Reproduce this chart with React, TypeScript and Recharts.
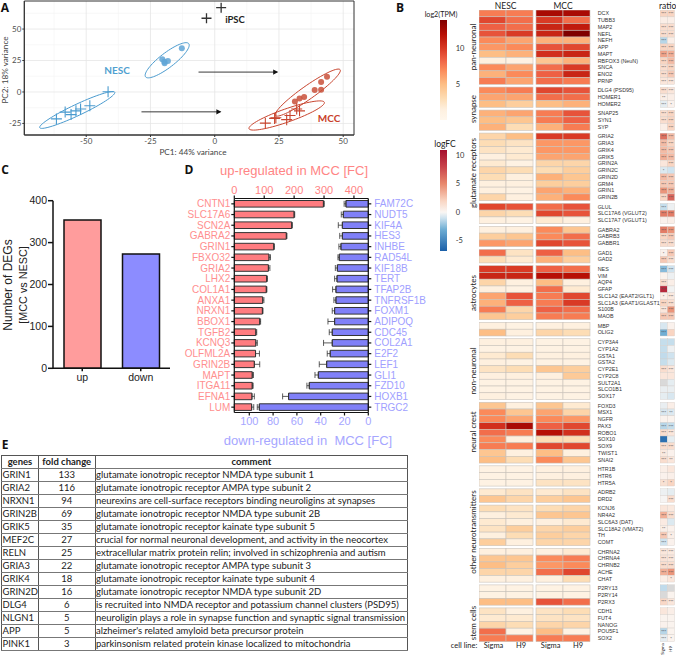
import React from "react";
import {
  BarChart, Bar, Cell, ErrorBar, XAxis, YAxis, ScatterChart, Scatter, CartesianGrid, ReferenceArea,
} from "recharts";

/* ---------- Panel A ---------- */
const nescCross = [{ x: -41.5, y: 0.2 }, { x: -48.6, y: -11 }, { x: -52.2, y: -13.5 }, { x: -54, y: -15 }, { x: -55.9, y: -18 }, { x: -58.2, y: -16 }, { x: -61.6, y: -21.4 }];
const nescDot = [{ x: -12.8, y: 34.8 }, { x: -20.4, y: 26 }, { x: -18.2, y: 24.6 }, { x: -19.5, y: 22.8 }, { x: -19.6, y: 24 }];
const mccDot = [{ x: 43.7, y: 12 }, { x: 41.4, y: 8 }, { x: 38.9, y: 1.6 }, { x: 41.4, y: 1.7 }, { x: 34.8, y: -4 }, { x: 33, y: -5.2 }, { x: 31.2, y: -7.5 }];
const mccCross = [{ x: 33, y: -15 }, { x: 31.9, y: -13.5 }, { x: 29.3, y: -18.7 }, { x: 28, y: -22 }, { x: 23.8, y: -20.5 }, { x: 23.3, y: -21 }, { x: 19.7, y: -24.8 }];
const ipscCross = [{ x: 2.5, y: 67 }, { x: -3.2, y: 58.6 }];
const arrowUpper = [{ x: -6.3, y: 15.8 }, { x: 24.3, y: 15.8, head: true }];
const arrowLower = [{ x: -28.5, y: -15.8 }, { x: 2.2, y: -15.8, head: true }];
const pcaXTicks = [-50, -25, 0, 25, 50];
const pcaYTicks = [-25, 0, 25, 50];
const pcaXMinor = [-62.5, -37.5, -12.5, 12.5, 37.5];
const pcaYMinor = [-12.5, 12.5, 37.5, 62.5];
// ellipse: centre, first and second conjugate half axis, in data units
const ellipseNescCross = [-53.5, -14.3, 14.6, 14.1, -0.95, 4.0];
const ellipseNescDot = [-18.5, 25.2, 8.4, 13.2, -1.74, 4.6];
const ellipseMccDot = [36.2, -0.5, 12.6, 18.2, -1.5, 4.3];
const ellipseMccCross = [28, -18.7, 14.66, 10.5, -0.87, 4.95];

/* ---------- Panel C ---------- */
const degCategories = ["up", "down"];
const degCounts = [354, 273];

/* ---------- Panel D ---------- */
const upGenes = ["CNTN1", "SLC17A6", "SCN2A", "GABRA2", "GRIN1", "FBXO32", "GRIA2", "LHX2", "COL1A1", "ANXA1", "NRXN1", "BBOX1", "TGFB2", "KCNQ3", "OLFML2A", "GRIN2B", "MAPT", "ITGA11", "EFNA1", "LUM"];
const upValues = [298, 200, 192, 174, 132, 116, 114, 108, 107, 95, 94, 85, 72, 72, 71, 67, 60, 60, 59, 58];
const upErrors = [3, 2, 2, 2, 2, 5, 5, 3, 2, 4, 2, 3, 3, 5, 13, 18, 4, 3, 8, 7];
const downGenes = ["FAM72C", "NUDT5", "KIF4A", "HES3", "INHBE", "RAD54L", "KIF18B", "TERT", "TFAP2B", "TNFRSF1B", "FOXM1", "ADIPOQ", "CDC45", "COL2A1", "E2F2", "LEF1", "GLI1", "FZD10", "HOXB1", "TRGC2"];
const downValues = [18.8, 21, 21.8, 21.8, 23, 24.4, 26, 26.3, 27.2, 27.2, 28.3, 28.3, 30.3, 30.3, 32, 35, 42, 49.6, 67, 91.6];
const downErrors = [1.5, 1.7, 3.4, 2.2, 1.7, 1.1, 1.7, 2, 2.8, 1.7, 2, 5.6, 2.5, 7.3, 2.5, 6.2, 2.8, 2, 5, 1.7];

/* ---------- Panel E ---------- */
const tableGenes = ["GRIN1", "GRIA2", "NRXN1", "GRIN2B", "GRIK5", "MEF2C", "RELN", "GRIA3", "GRIK4", "GRIN2D", "DLG4", "NLGN1", "APP", "PINK1"];
const tableFold = [133, 116, 94, 69, 35, 27, 25, 22, 18, 16, 6, 5, 5, 3];
const tableComments = [
  "glutamate ionotropic receptor NMDA type subunit 1",
  "glutamate ionotropic receptor AMPA type subunit 2",
  "neurexins are cell-surface receptors binding neuroligins at synapses",
  "glutamate ionotropic receptor NMDA type subunit 2B",
  "glutamate ionotropic receptor kainate type subunit 5",
  "crucial for normal neuronal development, and activity in the neocortex",
  "extracellular matrix protein relin; involved in schizophrenia and autism",
  "glutamate ionotropic receptor AMPA type subunit 3",
  "glutamate ionotropic receptor kainate type subunit 4",
  "glutamate ionotropic receptor NMDA type subunit 2D",
  "is recruited into NMDA receptor and potassium channel clusters (PSD95)",
  "neuroligin plays a role in synapse function and synaptic signal transmission",
  "alzheimer's related amyloid beta precursor protein",
  "parkinsonism related protein kinase localized to mitochondria",
];

/* ---------- Panel B ---------- */
const geneGroups = [
  ["DCX", "TUBB3", "MAP2", "NEFL", "NEFH", "APP", "MAPT", "RBFOX3 (NeuN)", "SNCA", "ENO2", "PRNP"],
  ["DLG4 (PSD95)", "HOMER1", "HOMER2"],
  ["SNAP25", "SYN1", "SYP"],
  ["GRIA2", "GRIA3", "GRIK4", "GRIK5", "GRIN2A", "GRIN2C", "GRIN2D", "GRM4", "GRIN1", "GRIN2B"],
  ["GLUL", "SLC17A6 (VGLUT2)", "SLC17A7 (VGLUT1)"],
  ["GABRA2", "GABRB3", "GABBR1"],
  ["GAD1", "GAD2"],
  ["NES", "VIM", "AQP4", "GFAP", "SLC1A2 (EAAT2/GLT1)", "SLC1A3 (EAAT1/GLAST1)", "S100B", "MAOB"],
  ["MBP", "OLIG2"],
  ["CYP3A4", "CYP1A2", "GSTA1", "GSTA2", "CYP2E1", "CYP2C8", "SULT2A1", "SLCO1B1", "SOX17"],
  ["FOXD3", "MSX1", "NGFR", "PAX3", "ROBO1", "SOX10", "SOX9", "TWIST1", "SNAI2"],
  ["HTR1B", "HTR6", "HTR5A"],
  ["ADRB2", "DRD2"],
  ["KCNJ6", "NR4A2", "SLC6A3 (DAT)", "SLC18A2 (VMAT2)", "TH", "COMT"],
  ["CHRNA2", "CHRNA4", "CHRNB2", "ACHE", "CHAT"],
  ["P2RY13", "P2RY14", "P2RX3"],
  ["CDH1", "FUT4", "NANOG", "POU5F1", "SOX2"],
];
const nescSigma = [7.5, 9.5, 8.5, 9, 7, 6.5, 5, 1.5, 7, 5.5, 7.5, 7, 6, 5, 5.5, 5, 5.5, 3.5, 3, 2.5, 1.5, 2, 3.5, 3, 1.5, 1.5, 3.5, 9.5, 3.5, 1.5, 1.5, 4, 6.5, 8, 3, 10, 11, 3.5, 1.5, 6, 5.5, 7.5, 4.5, 1.5, 5, 1.5, 1, 2, 1.5, 2.5, 1.5, 1, 1, 1.5, 4.5, 7, 7, 10.5, 8, 7, 7.5, 4.5, 5, 1, 1, 1, 2, 4.5, 3, 1.5, 2, 2.5, 1.5, 4, 1.5, 4.5, 5, 3.5, 1.5, 1, 1, 5, 2.5, 2, 3.5, 8, 7.5];
const nescH9 = [7.5, 8, 8, 10, 6, 7, 5.5, 1, 6, 7, 6, 7.5, 6, 4, 6, 4.5, 3, 5, 2.5, 2, 2, 1, 3, 1.5, 1.5, 1, 1.5, 9, 3, 1, 1.5, 4.5, 6, 2.5, 2, 10, 11, 1.5, 1, 9, 8.5, 3.5, 4, 1, 1.5, 1.5, 1, 3, 1, 3, 1.5, 1, 1, 1, 1.5, 4.5, 6, 12.5, 7.5, 1.5, 7.5, 1.5, 3, 1, 1, 1, 2.5, 3.5, 2.5, 2, 1.5, 4, 3, 1.5, 1.5, 4.5, 4, 3.5, 1.5, 1, 1, 5, 1.5, 2, 3, 1, 7.5];
const mccSigma = [12.5, 10, 11, 11, 5.5, 9, 10.5, 4.5, 8, 8.5, 8, 9.5, 8, 5, 7.5, 7.5, 5.5, 10, 6.5, 6.5, 6, 3.5, 3, 5.5, 4, 6, 5.5, 8, 9.5, 2, 7, 7, 9.5, 8.5, 5.5, 8.5, 12, 5, 8, 7.5, 7.5, 8.5, 7.5, 1.5, 3.5, 1, 1, 1.5, 1, 4.5, 1.5, 1, 1, 1, 4.5, 6, 7, 8.5, 12, 3, 9.5, 5, 7, 1.5, 1.5, 2.5, 2, 4, 3, 4.5, 1.5, 3.5, 4, 3.5, 1.5, 7, 6.5, 8, 1.5, 1, 1, 9, 2.5, 2.5, 3.5, 5, 7.5];
const mccH9 = [12.5, 8, 11.5, 14, 5.5, 9.5, 11, 5.5, 10, 11, 7.5, 9, 8, 5.5, 9, 8.5, 7.5, 10, 6.5, 6.5, 6, 3.5, 4, 4.5, 4, 5.5, 7, 9, 9, 1.5, 4.5, 8, 9, 5, 4, 8, 12, 1.5, 2, 9.5, 10, 8, 7.5, 1.5, 3, 1, 1, 1.5, 1, 4, 4.2, 1, 1, 1, 2, 3.5, 6.5, 9.5, 10.5, 3, 9.5, 1.5, 4.5, 1.5, 1.5, 2.5, 2.5, 4.5, 3.5, 4.5, 2, 4, 3.5, 3.5, 2, 7.5, 7, 9.5, 3, 1, 1, 8, 3, 2.5, 3.5, 1, 7.5];
const ratioSigma: (number | null)[] = [2, 0.5, 1.5, 1.5, -1.5, 2, 4, 2, 1.5, 1.5, 1, 1.5, 0.5, -0.5, 1.5, 1.5, 0.5, 6, 3, 3, 3.5, 1, -0.7, 3, 2.5, 4.5, 2, -1.2, 5.5, 0.3, 5.5, 2, 1.5, 0.3, 2.5, -2.5, 0.2, 1.5, 9.5, 0.5, 2, 1, 2.5, -0.8, -3, -1.2, -1.2, -1.3, -1.2, 1.5, 1, null, -0.4, -0.5, -0.4, -0.8, 0.2, -1.5, 1.5, -6, 1.5, 0.8, 1.5, 0.5, 0.3, 1.3, -0.3, -0.1, 1, 3.5, 0.7, 0.5, 2.5, -1, 1, 1.2, 1.5, 3.5, 0.5, -1.3, null, 1.8, 1, 0.2, 0.3, -1.5, -0.5];
const ratioH9: (number | null)[] = [2, 0.5, 1.5, 1.5, 0.5, 2, 3.5, 3, 2, 2.5, 1, 1, 0.5, 0.3, 2, 2, 2, 3, 2, 2.5, 3, 2, -1, 2.5, 2.5, 3.5, 6.5, -0.3, 5.5, 0.5, 4.5, 2.5, 1.5, 2.5, 1.5, -1, -0.3, 0.5, -0.2, 0.8, 1.5, 4.5, 2.5, 0.3, 2, -1.2, -0.3, -1, -0.7, 1, 1, -0.5, -0.4, -0.8, 0.5, -0.7, 0.2, -1.2, 1, -0.5, 1.5, 0.3, 1, 1, 0.4, 2, -0.5, 1.5, 0.8, 1.5, -0.7, 0.3, 0.5, 0.3, 0.8, 1, 1.5, 4.5, 1, null, 0.2, 1, 0.5, 0.2, 0.2, 0.2, 0.2];
const starsSigma = [3, 0, 3, 3, 3, 3, 3, 3, 3, 3, 3, 3, 2, 3, 3, 3, 0, 3, 3, 3, 3, 0, 1, 3, 3, 3, 3, 3, 3, 0, 3, 3, 3, 1, 3, 3, 0, 3, 3, 1, 3, 3, 3, 0, 3, 0, 0, 0, 0, 3, 0, 0, 0, 0, 0, 3, 0, 3, 3, 0, 3, 2, 3, 0, 0, 1, 0, 0, 0, 3, 0, 2, 3, 3, 3, 3, 3, 3, 0, 0, 0, 3, 0, 0, 0, 3, 3];
const starsH9 = [3, 0, 3, 3, 0, 3, 3, 3, 3, 3, 3, 3, 0, 1, 3, 3, 3, 3, 3, 3, 3, 3, 0, 3, 3, 3, 3, 0, 3, 0, 3, 3, 3, 3, 3, 3, 0, 0, 0, 3, 3, 3, 3, 0, 0, 0, 0, 0, 0, 3, 0, 0, 0, 0, 0, 2, 0, 3, 3, 0, 3, 0, 2, 0, 0, 1, 0, 3, 0, 3, 0, 0, 1, 0, 3, 3, 3, 3, 1, 0, 0, 3, 0, 0, 0, 0, 1];
const groupLabels = [
  { text: "pan-neuronal", y: 47 }, { text: "synapse", y: 109 }, { text: "glutamate receptors", y: 173 }, { text: "astrocytes", y: 293 },
  { text: "non-neuronal", y: 371 }, { text: "neural crest", y: 432 }, { text: "other neurotransmitters", y: 532 }, { text: "stem cells", y: 623 },
];
const cellLines = [{ t: "Sigma", x: 493.5 }, { t: "H9", x: 521 }, { t: "Sigma", x: 550.7 }, { t: "H9", x: 578 }];
const tpmTicks = [0, 5, 10];
const fcTicks = [-5, 0, 5, 10];
const tpmRange = [0, 14];
const fcRange = [-6.8, 10.9];

const TPM_STOPS: [number, string][] = [[0, "#FFF7EC"], [1.5, "#FEF0DF"], [3, "#FDDDB5"], [5, "#FDBE85"], [7, "#FB8A5A"], [8.5, "#EE6044"], [10, "#D93A25"], [12, "#B70F05"], [14, "#7F0000"]];
const FC_STOPS: [number, string][] = [[-6.8, "#1A5FA8"], [-3, "#6FAED4"], [-1, "#CFE3EF"], [0, "#FAF6F3"], [2, "#F9D5C2"], [5, "#E8886C"], [8, "#C8424A"], [10.9, "#A50F2E"]];

function hex(c: string) { return [1, 3, 5].map((i) => parseInt(c.slice(i, i + 2), 16)); }
function scale(stops: [number, string][], v: number) {
  if (v <= stops[0][0]) return stops[0][1];
  for (let i = 1; i < stops.length; i++) {
    if (v <= stops[i][0]) {
      const t = (v - stops[i - 1][0]) / (stops[i][0] - stops[i - 1][0]);
      const a = hex(stops[i - 1][1]); const b = hex(stops[i][1]);
      return `rgb(${a.map((p, k) => Math.round(p + (b[k] - p) * t)).join(",")})`;
    }
  }
  return stops[stops.length - 1][1];
}

const GROUP_GAP = 0.407;
const rowPositions: number[] = [];
const rowNames: string[] = [];
geneGroups.forEach((g, gi) => g.forEach((name) => { rowPositions.push(rowNames.length + gi * GROUP_GAP); rowNames.push(name); }));
const rowDomain = [-0.5, rowPositions[rowPositions.length - 1] + 0.5];
const nameAt = new Map(rowPositions.map((p, i) => [p, rowNames[i]]));

const heatColumns = [{ col: 0.5, v: nescSigma }, { col: 1.5, v: nescH9 }, { col: 2.61, v: mccSigma }, { col: 3.61, v: mccH9 }];
const heatCells = heatColumns.flatMap((c) => c.v.map((v, i) => ({ col: c.col, pos: rowPositions[i], v })));
const ratioCells = [
  ...ratioSigma.map((v, i) => ({ col: 0.5, pos: rowPositions[i], v, s: starsSigma[i] })),
  ...ratioH9.map((v, i) => ({ col: 1.5, pos: rowPositions[i], v, s: starsH9[i] })),
];

function ellipse(p: number[]) {
  const pts = [];
  for (let k = 0; k <= 72; k++) {
    const a = (k / 72) * 2 * Math.PI;
    pts.push({ x: p[0] + p[2] * Math.cos(a) + p[4] * Math.sin(a), y: p[1] + p[3] * Math.cos(a) + p[5] * Math.sin(a) });
  }
  return pts;
}

const LATO = "Lato, sans-serif";
const ARIAL = "'Liberation Sans', Arial, sans-serif";
const BLUE = "#4A9BCF";
const RED = "#C8452F";

const Plus = (color: string, s: number, w: number) => (p: any) => (
  <path d={`M${p.cx - s} ${p.cy}H${p.cx + s}M${p.cx} ${p.cy - s}V${p.cy + s}`} stroke={color} strokeWidth={w} fill="none" />
);
const Dot = (color: string) => (p: any) => <circle cx={p.cx} cy={p.cy} r={3} fill={color} fillOpacity={0.85} />;
const NoPoint = () => null;
const ArrowHead = (p: any) =>
  p.payload && p.payload.head ? <polygon points={`${p.cx - 4},${p.cy - 2.6} ${p.cx + 1},${p.cy} ${p.cx - 4},${p.cy + 2.6}`} fill="#111" /> : null;

function Txt({ x, y, size, children, color = "#222", font = LATO, bold = false, rot = 0 }: any) {
  return (
    <div style={{ position: "absolute", left: x, top: y, transform: `translate(-50%,-50%) rotate(${rot}deg)`, fontSize: size, color, fontFamily: font, fontWeight: bold ? 700 : 400, whiteSpace: "pre", lineHeight: 1 }}>
      {children}
    </div>
  );
}

function Ellipse({ p, color }: any) {
  return <Scatter data={ellipse(p)} dataKey="y" line={{ stroke: color, strokeWidth: 1 }} shape={NoPoint} isAnimationActive={false} />;
}

function PanelA() {
  const tick = { fontSize: 8, fontFamily: LATO, fill: "#4D4D4D" };
  return (
    <div style={{ position: "absolute", left: 0, top: 0 }}>
      <ScatterChart width={356} height={150} margin={{ top: 1, right: 2, bottom: 0, left: 0 }}>
        <CartesianGrid stroke="#F4F4F4" strokeWidth={0.6} verticalValues={pcaXMinor} horizontalValues={pcaYMinor} />
        <CartesianGrid stroke="#E6E6E6" strokeWidth={0.8} verticalValues={pcaXTicks} horizontalValues={pcaYTicks} />
        <XAxis type="number" dataKey="x" domain={[-74.1, 54.2]} ticks={pcaXTicks} allowDataOverflow height={15} tick={tick} tickSize={2} tickMargin={1} stroke="#333" />
        <YAxis type="number" dataKey="y" domain={[-34.2, 72.3]} ticks={pcaYTicks} allowDataOverflow width={24.3} tick={tick} tickSize={2} tickMargin={1} stroke="#333" />
        <ReferenceArea x1={-74.1} x2={54.2} y1={-34.2} y2={72.3} fill="none" stroke="#333" strokeWidth={1} />
        {Ellipse({ p: ellipseNescCross, color: BLUE })}
        {Ellipse({ p: ellipseNescDot, color: BLUE })}
        {Ellipse({ p: ellipseMccDot, color: RED })}
        {Ellipse({ p: ellipseMccCross, color: RED })}
        <Scatter data={arrowUpper} line={{ stroke: "#222", strokeWidth: 0.9 }} shape={ArrowHead} isAnimationActive={false} />
        <Scatter data={arrowLower} line={{ stroke: "#222", strokeWidth: 0.9 }} shape={ArrowHead} isAnimationActive={false} />
        <Scatter data={nescCross} shape={Plus(BLUE, 5.5, 1.1)} isAnimationActive={false} />
        <Scatter data={nescDot} shape={Dot("#5FA4D6")} isAnimationActive={false} />
        <Scatter data={mccDot} shape={Dot("#C9503A")} isAnimationActive={false} />
        <Scatter data={mccCross} shape={Plus(RED, 5.5, 1.1)} isAnimationActive={false} />
        <Scatter data={ipscCross} shape={Plus("#333", 5, 1.3)} isAnimationActive={false} />
      </ScatterChart>
    </div>
  );
}

function PanelC() {
  const data = degCategories.map((c, i) => ({ c, v: degCounts[i] }));
  const fills = ["#FF9C9C", "#8C8CFF"];
  return (
    <div style={{ position: "absolute", left: 0, top: 190 }}>
      <BarChart width={172} height={200} data={data} margin={{ top: 10.7, right: 2, bottom: 0, left: 0 }}>
        <XAxis dataKey="c" height={21.7} tick={{ fontSize: 10.5, fontFamily: ARIAL, fill: "#222" }} tickSize={3} tickMargin={2} stroke="#111" strokeWidth={1.5} interval={0} />
        <YAxis domain={[0, 400]} ticks={[0, 100, 200, 300, 400]} width={53} tick={{ fontSize: 10.5, fontFamily: ARIAL, fill: "#222" }} tickSize={5} tickMargin={1} stroke="#111" strokeWidth={1.5} />
        <Bar dataKey="v" barSize={37} stroke="#111" strokeWidth={1.5} isAnimationActive={false}>
          {data.map((d, i) => <Cell key={d.c} fill={fills[i]} />)}
        </Bar>
      </BarChart>
    </div>
  );
}

function PanelD() {
  const data = upGenes.map((g, i) => ({ upGene: g, up: upValues[i], upErr: [0, upErrors[i]], downGene: downGenes[i], down: downValues[i], downErr: [0, downErrors[i]] }));
  return (
    <div style={{ position: "absolute", left: 160, top: 160 }}>
      <BarChart layout="vertical" width={278.3} height={273} data={data} barSize={6.6} margin={{ top: 18.5, right: 0, bottom: 0, left: 0 }}>
        <XAxis xAxisId="up" type="number" orientation="top" domain={[0, 448]} ticks={[0, 100, 200, 300, 400]} height={20} tick={{ fontSize: 11, fontFamily: ARIAL, fill: "#FF8585" }} tickSize={3} tickMargin={1} stroke="#111" strokeWidth={1.2} />
        <XAxis xAxisId="down" type="number" orientation="bottom" reversed domain={[0, 112.6]} ticks={[0, 20, 40, 60, 80, 100]} height={20.5} tick={{ fontSize: 11, fontFamily: ARIAL, fill: "#A6A6FF" }} tickSize={3} tickMargin={2} stroke="#111" strokeWidth={1.2} />
        <YAxis yAxisId="l" type="category" dataKey="upGene" width={74.3} interval={0} tick={{ fontSize: 10, fontFamily: ARIAL, fill: "#FF8F8F" }} tickSize={3} tickMargin={1} stroke="#111" strokeWidth={1.2} />
        <YAxis yAxisId="r" type="category" dataKey="downGene" orientation="right" width={70} interval={0} tick={{ fontSize: 10, fontFamily: ARIAL, fill: "#A0A0FF" }} tickSize={3} tickMargin={3} stroke="#111" strokeWidth={1.2} />
        <Bar xAxisId="up" yAxisId="l" dataKey="up" fill="#FF7C80" stroke="#333" strokeWidth={1} isAnimationActive={false}>
          <ErrorBar dataKey="upErr" direction="x" width={3} stroke="#333" strokeWidth={0.8} isAnimationActive={false} />
        </Bar>
        <Bar xAxisId="down" yAxisId="r" dataKey="down" fill="#8080F8" stroke="#333" strokeWidth={1} isAnimationActive={false}>
          <ErrorBar dataKey="downErr" direction="x" width={3} stroke="#333" strokeWidth={0.8} isAnimationActive={false} />
        </Bar>
      </BarChart>
    </div>
  );
}

function PanelE() {
  const cell: React.CSSProperties = { border: "1px solid #555", borderBottomColor: "#777", padding: "0 0 0 0.5px", height: 12.9, lineHeight: "12px", overflow: "hidden", whiteSpace: "nowrap", boxSizing: "border-box" };
  return (
    <table style={{ position: "absolute", left: 1, top: 455, width: 407, tableLayout: "fixed", borderCollapse: "collapse", fontFamily: LATO, fontSize: 9.5, color: "#222" }}>
      <colgroup><col style={{ width: 36.5 }} /><col style={{ width: 57 }} /><col /></colgroup>
      <tbody>
        <tr style={{ height: 12.9 }}>
          <td style={{ ...cell, textAlign: "center", fontWeight: 700 }}>genes</td>
          <td style={{ ...cell, textAlign: "center", fontWeight: 700 }}>fold change</td>
          <td style={{ ...cell, textAlign: "center", fontWeight: 700 }}>comment</td>
        </tr>
        {tableGenes.map((g, i) => (
          <tr key={g} style={{ height: 12.9 }}>
            <td style={cell}>{g}</td>
            <td style={{ ...cell, textAlign: "center" }}>{tableFold[i]}</td>
            <td style={cell}>{tableComments[i]}</td>
          </tr>
        ))}
      </tbody>
    </table>
  );
}

const HeatShape = (p: any) => (
  <rect x={p.cx - 13.5} y={p.cy - 3.38} width={27} height={6.76} fill={scale(TPM_STOPS, p.payload.v)} stroke="#C9C2BA" strokeWidth={0.6} />
);
const RatioShape = (p: any) => {
  const v = p.payload.v;
  return (
    <g>
      <rect x={p.cx - 3.65} y={p.cy - 3.38} width={7.3} height={6.76} fill={v === null ? "#D9D9D9" : scale(FC_STOPS, v)} stroke="#D4CEC9" strokeWidth={0.4} />
      {p.payload.s > 0 ? <text x={p.cx} y={p.cy + 1.8} fontSize={4.2} fontFamily={ARIAL} textAnchor="middle" fill="#555">{"*".repeat(p.payload.s)}</text> : null}
    </g>
  );
};
const GeneTick = (p: any) => (
  <text x={p.x} y={p.y + 1.9} fontSize={5.4} fontFamily={ARIAL} fill="#333">{nameAt.get(p.payload.value) || ""}</text>
);

function PanelB() {
  return (
    <>
      <div style={{ position: "absolute", left: 479.3, top: 10.3 }}>
        <ScatterChart width={196} height={631.7} margin={{ top: 0, right: 0, bottom: 0, left: 0 }}>
          <XAxis type="number" dataKey="col" domain={[0, 4.11]} hide />
          <YAxis type="number" dataKey="pos" orientation="right" reversed domain={rowDomain} ticks={rowPositions} interval={0} width={85} axisLine={false} tickLine={false} tickMargin={1.7} tick={GeneTick} />
          <Scatter data={heatCells} shape={HeatShape} isAnimationActive={false} />
        </ScatterChart>
      </div>
      <div style={{ position: "absolute", left: 660, top: 10.3 }}>
        <ScatterChart width={14.6} height={631.7} margin={{ top: 0, right: 0, bottom: 0, left: 0 }}>
          <XAxis type="number" dataKey="col" domain={[0, 2]} hide />
          <YAxis type="number" dataKey="pos" reversed domain={rowDomain} hide />
          <Scatter data={ratioCells} shape={RatioShape} isAnimationActive={false} />
        </ScatterChart>
      </div>
      {groupLabels.map((g) => <Txt key={g.text} x={472.7} y={g.y} size={8} rot={-90}>{g.text}</Txt>)}
      <Txt x={505.7} y={5.5} size={8.5}>NESC</Txt>
      <Txt x={563} y={5.5} size={8.5}>MCC</Txt>
      <Txt x={667.7} y={5.5} size={8.5}>ratio</Txt>
      <Txt x={464} y={646} size={7.5}>cell line:</Txt>
      {cellLines.map((c, i) => <Txt key={i} x={c.x} y={646} size={7.5}>{c.t}</Txt>)}
      <Txt x={663} y={648.5} size={4.4} rot={-90}>Sigma</Txt>
      <Txt x={670.5} y={648.5} size={4.4} rot={-90}>H9</Txt>

      <Txt x={441} y={15} size={7.2}>log2(TPM)</Txt>
      <div style={{ position: "absolute", left: 440, top: 20 }}>
        <BarChart width={30} height={100} data={[{ r: tpmRange }]} barCategoryGap={0} margin={{ top: 0, right: 0, bottom: 0, left: 0 }} style={{ overflow: "visible" }}>
          <defs>
            <linearGradient id="tpmGrad" x1="0" y1="1" x2="0" y2="0">
              {TPM_STOPS.map(([v, c]) => <stop key={v} offset={v / 14} stopColor={c} />)}
            </linearGradient>
          </defs>
          <XAxis hide />
          <YAxis orientation="right" width={23.3} domain={tpmRange} ticks={tpmTicks} axisLine={false} tickLine={false} tickMargin={3} tick={{ fontSize: 7.5, fontFamily: LATO, fill: "#333" }} />
          <Bar dataKey="r" fill="url(#tpmGrad)" isAnimationActive={false} />
        </BarChart>
      </div>
      <Txt x={445} y={144} size={8.5}>logFC</Txt>
      <div style={{ position: "absolute", left: 440, top: 150 }}>
        <BarChart width={30} height={101} data={[{ r: fcRange }]} barCategoryGap={0} margin={{ top: 0, right: 0, bottom: 0, left: 0 }} style={{ overflow: "visible" }}>
          <defs>
            <linearGradient id="fcGrad" x1="0" y1="1" x2="0" y2="0">
              {FC_STOPS.map(([v, c]) => <stop key={v} offset={(v - fcRange[0]) / (fcRange[1] - fcRange[0])} stopColor={c} />)}
            </linearGradient>
          </defs>
          <XAxis hide />
          <YAxis orientation="right" width={23.3} domain={fcRange} ticks={fcTicks} axisLine={false} tickLine={false} tickMargin={3} tick={{ fontSize: 7.5, fontFamily: LATO, fill: "#333" }} />
          <Bar dataKey="r" fill="url(#fcGrad)" isAnimationActive={false} />
        </BarChart>
      </div>
    </>
  );
}

export default function App() {
  return (
    <div style={{ position: "absolute", left: 0, top: 0, width: 676, height: 655, overflow: "hidden", background: "#fff" }}>
      <PanelA />
      <Txt x={193} y={152} size={8.2} color="#444">PC1: 44% variance</Txt>
      <Txt x={4.5} y={70} size={8.2} color="#444" rot={-90}>PC2: 18% variance</Txt>
      <Txt x={117} y={70} size={10} bold color="#4FA0D0">NESC</Txt>
      <Txt x={329} y={118} size={10} bold color="#C8402A">MCC</Txt>
      <Txt x={235} y={20} size={9.5} bold color="#222">iPSC</Txt>
      <Txt x={5} y={8} size={12} bold font="'Open Sans', sans-serif" color="#111">A</Txt>
      <Txt x={400} y={8} size={12} bold font="'Open Sans', sans-serif" color="#111">B</Txt>
      <Txt x={5} y={170} size={12} bold font="'Open Sans', sans-serif" color="#111">C</Txt>
      <Txt x={189} y={170} size={12} bold font="'Open Sans', sans-serif" color="#111">D</Txt>
      <Txt x={5} y={445} size={12} bold font="'Open Sans', sans-serif" color="#111">E</Txt>

      <PanelC />
      <Txt x={7.5} y={285} size={12} font={ARIAL} rot={-90}>Number of DEGs</Txt>
      <Txt x={23} y={285} size={10.8} font={ARIAL} rot={-90}>[MCC vs NESC]</Txt>

      <PanelD />
      <Txt x={294} y={170} size={13} font={ARIAL} color="#FF8585">up-regulated in MCC [FC]</Txt>
      <Txt x={308} y={440} size={13} font={ARIAL} color="#A6A6FF">down-regulated in  MCC [FC]</Txt>

      <PanelE />
      <PanelB />
    </div>
  );
}
